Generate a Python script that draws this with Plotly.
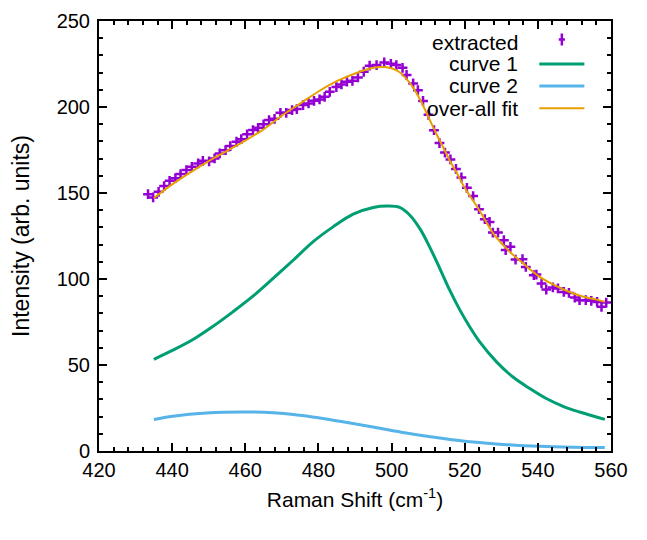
import plotly.graph_objects as go

# extracted Raman spectrum
shift_pts = [433.4, 434.8, 436.3, 437.8, 439.3, 440.9, 442.3, 443.9, 445.4, 447.1,
             448.4, 450.1, 451.6, 453.0, 454.6, 455.9, 457.6, 458.9, 460.5, 462.1,
             463.5, 465.0, 466.5, 468.0, 469.6, 471.2, 472.8, 474.1, 475.8, 477.3,
             478.8, 480.3, 481.7, 483.1, 484.9, 486.3, 487.8, 489.3, 490.8, 492.4,
             494.0, 495.9, 498.0, 499.8, 501.3, 503.0, 504.1, 505.9, 507.2, 508.6,
             510.1, 511.6, 513.1, 514.6, 516.1, 517.6, 519.1, 520.6, 522.3, 523.9,
             525.5, 526.8, 527.7, 529.1, 530.7, 531.2, 532.5, 533.9, 535.8, 536.7,
             538.9, 539.6, 541.0, 542.3, 544.1, 545.5, 547.1, 548.5, 550.1, 551.4,
             553.1, 554.6, 556.2, 557.4, 558.7]
intensity_pts = [149.3, 147.4, 150.7, 154.0, 157.1, 158.6, 161.0, 163.3, 165.2, 167.2,
                 168.7, 168.4, 170.1, 173.0, 174.9, 177.3, 179.8, 181.3, 184.1, 186.6,
                 187.9, 189.9, 192.4, 193.1, 196.6, 196.6, 198.2, 198.8, 201.1, 202.1,
                 203.6, 204.4, 205.9, 208.8, 211.6, 213.1, 214.7, 215.2, 217.2, 220.5,
                 224.0, 224.4, 225.9, 225.1, 224.4, 222.8, 218.6, 213.7, 209.8, 203.5,
                 195.5, 186.5, 179.0, 173.5, 169.5, 164.0, 159.0, 153.0, 148.2, 140.6,
                 134.8, 133.2, 127.0, 127.0, 122.6, 116.8, 118.7, 111.3, 111.5, 107.0,
                 102.2, 102.6, 97.4, 93.9, 95.1, 94.5, 92.5, 91.9, 89.2, 87.7,
                 87.7, 87.3, 86.7, 83.8, 86.3]

# curve 1 (asymmetric main peak)
c1_x = [435.0, 440.2, 445.7, 451.2, 456.6, 462.1, 467.6, 473.1, 478.5, 484.0,
        489.5, 495.0, 499.0, 502.2, 505.0, 507.7, 510.4, 513.2, 515.9, 518.7,
        521.4, 524.1, 528.7, 533.2, 537.8, 542.3, 546.9, 551.4, 558.3]
c1_y = [53.3, 58.6, 64.8, 72.5, 80.9, 90.0, 100.3, 110.9, 121.6, 130.3,
        137.7, 141.6, 142.4, 141.6, 137.1, 129.4, 118.7, 106.1, 93.5, 81.9,
        72.1, 63.4, 51.8, 43.0, 36.3, 30.5, 26.0, 22.7, 18.4]

# curve 2 (broad low band)
c2_x = [435.0, 440.2, 449.4, 459.4, 467.6, 476.7, 485.8, 494.9, 504.0, 513.2,
        522.3, 531.4, 540.5, 549.6, 558.3]
c2_y = [18.3, 20.2, 22.1, 22.7, 22.3, 20.4, 17.3, 14.0, 10.5, 7.6,
        5.2, 3.7, 2.7, 2.2, 2.0]

# over-all fit
fit_x = [435, 440, 445, 450, 455, 460, 465, 470, 475, 480, 485, 490, 495, 498,
         500, 502, 504, 506, 508, 510, 512, 514, 516, 518, 520, 524, 528, 532,
         536, 540, 544, 548, 552, 556, 558.3]
fit_y = [147, 155, 162, 168.5, 174.5, 180.5, 187, 195, 202, 209, 215, 219.5, 222.8, 223.2,
         222.5, 220.5, 216.5, 211, 203.5, 194.5, 185.5, 177, 168.5, 161, 153, 140, 126, 116.5,
         109, 102, 97, 93, 90, 88, 86.8]

PURPLE = '#9400D3'
GREEN = '#009E73'
BLUE = '#56B4E9'
ORANGE = '#E69F00'
FONT = 'Liberation Sans, Arial, Helvetica, sans-serif'

fig = go.Figure()
fig.add_trace(go.Scatter(x=c1_x, y=c1_y, mode='lines', line_shape='spline', name='curve 1',
                         line=dict(color=GREEN, width=3)))
fig.add_trace(go.Scatter(x=c2_x, y=c2_y, mode='lines', line_shape='spline', name='curve 2',
                         line=dict(color=BLUE, width=3)))
fig.add_trace(go.Scatter(x=shift_pts, y=intensity_pts, mode='markers', name='extracted',
                         marker=dict(symbol='cross-thin', size=7,
                                     line=dict(color=PURPLE, width=2.5))))
fig.add_trace(go.Scatter(x=fit_x, y=fit_y, mode='lines', line_shape='spline', name='over-all fit',
                         line=dict(color=ORANGE, width=2)))

# gnuplot-style key: text right-aligned, sample on the right
labels = ['extracted', 'curve 1', 'curve 2', 'over-all fit']
colors = [PURPLE, GREEN, BLUE, ORANGE]
widths = [0, 3, 3, 2]
row_y = [0.951, 0.900, 0.849, 0.797]
for lab, col, w, yy in zip(labels, colors, widths, row_y):
    fig.add_annotation(text=lab, xref='paper', yref='paper', x=0.822, y=yy,
                       xanchor='right', yanchor='middle', showarrow=False,
                       font=dict(family=FONT, size=21, color='black'))
    if w:
        fig.add_shape(type='line', xref='paper', yref='paper', x0=0.860, x1=0.948,
                      y0=yy, y1=yy, line=dict(color=col, width=w))
    else:
        fig.add_shape(type='line', xref='paper', yref='paper', x0=0.898, x1=0.910,
                      y0=yy + 0.006, y1=yy + 0.006, line=dict(color=col, width=2.5))
        fig.add_shape(type='line', xref='paper', yref='paper', x0=0.904, x1=0.904,
                      y0=yy - 0.008, y1=yy + 0.020, line=dict(color=col, width=2.5))

axis_common = dict(showline=True, linecolor='black', linewidth=2, mirror='ticks',
                   ticks='inside', ticklen=8, tickwidth=1.5, tickcolor='black',
                   showgrid=False, zeroline=False, automargin=False,
                   tickfont=dict(family=FONT, size=20, color='black'))

fig.update_xaxes(range=[420, 560], dtick=20, tick0=420,
                 minor=dict(dtick=4, ticks='inside', ticklen=4, tickwidth=1.5, tickcolor='black'),
                 title=dict(text='Raman Shift (cm<sup>-1</sup>)', standoff=12,
                            font=dict(family=FONT, size=21, color='black')),
                 **axis_common)
fig.update_yaxes(range=[0, 250], dtick=50, ticklabelstandoff=3,
                 minor=dict(dtick=10, ticks='inside', ticklen=4, tickwidth=1.5, tickcolor='black'),
                 title=dict(text='Intensity (arb. units)', standoff=22,
                            font=dict(family=FONT, size=23, color='black')),
                 **axis_common)

# page has an 8px body margin, so the margins are shifted to land the frame where the original sits
fig.update_layout(width=647, height=540, showlegend=False,
                  plot_bgcolor='white', paper_bgcolor='white',
                  margin=dict(l=91, r=44, t=13, b=97))

fig.write_html('out.html')
